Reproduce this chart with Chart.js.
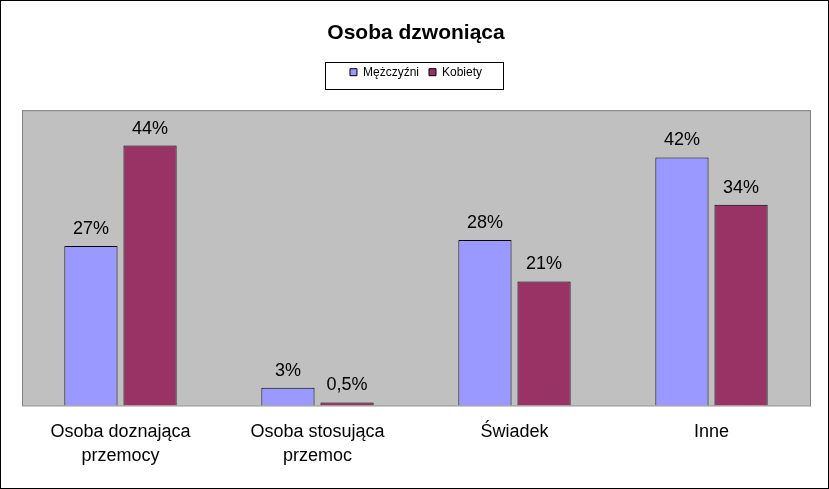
<!DOCTYPE html>
<html><head><meta charset="utf-8">
<script src="https://cdn.jsdelivr.net/npm/chart.js@4"></script>
<style>html,body{margin:0;padding:0;background:#fff}#wrap{width:827px;height:487px;border:1px solid #000}</style>
</head><body><div id="wrap"><canvas id="c" width="827" height="487"></canvas></div>
<script>
const categories = [['Osoba doznająca', 'przemocy'], ['Osoba stosująca', 'przemoc'], 'Świadek', 'Inne'];
const men = [27, 3, 28, 42];
const women = [44, 0.5, 21, 34];
const menLabels = ['27%', '3%', '28%', '42%'];
const womenLabels = ['44%', '0,5%', '21%', '34%'];

const extras = {
  id: 'extras',
  beforeInit(chart) {
    const fit = chart.legend.fit;
    chart.legend.fit = function () { fit.bind(chart.legend)(); this.height += 22; };
  },
  beforeDraw(chart) {
    const a = chart.chartArea, ctx = chart.ctx;
    ctx.save();
    ctx.fillStyle = '#c0c0c0';
    ctx.fillRect(a.left, a.top, a.right - a.left, a.bottom - a.top);
    ctx.strokeStyle = '#808080';
    ctx.lineWidth = 1;
    ctx.strokeRect(a.left + 0.5, a.top + 0.5, a.right - a.left, a.bottom - a.top);
    ctx.strokeStyle = '#000';
    ctx.strokeRect(324.5, 61.5, 178, 27);
    ctx.restore();
  },
  afterDatasetsDraw(chart) {
    const ctx = chart.ctx;
    ctx.save();
    ctx.font = '18px Arial, "Liberation Sans"';
    ctx.fillStyle = '#000';
    ctx.textAlign = 'center';
    ctx.textBaseline = 'bottom';
    [menLabels, womenLabels].forEach((labs, di) => {
      chart.getDatasetMeta(di).data.forEach((bar, i) => {
        ctx.fillText(labs[i], bar.x, bar.y - 8);
      });
    });
    ctx.restore();
  }
};

new Chart(document.getElementById('c'), {
  type: 'bar',
  data: {
    labels: categories,
    datasets: [
      { label: 'Mężczyźni', data: men, backgroundColor: '#9999ff', borderColor: '#000', borderWidth: 1, categoryPercentage: 0.6, barPercentage: 0.9 },
      { label: 'Kobiety', data: women, backgroundColor: '#993366', borderColor: '#000', borderWidth: 1, categoryPercentage: 0.6, barPercentage: 0.9 }
    ]
  },
  options: {
    responsive: false,
    animation: false,
    layout: { padding: { left: 21, right: 18, top: 0, bottom: 14 } },
    plugins: {
      title: { display: true, text: 'Osoba dzwoniąca', color: '#000', font: { family: 'Arial, "Liberation Sans"', size: 21, weight: 'bold' }, padding: { top: 20, bottom: 10 } },
      legend: { labels: { color: '#000', boxWidth: 7, boxHeight: 7, padding: 10, font: { family: 'Arial, "Liberation Sans"', size: 12 } } },
      tooltip: { enabled: false }
    },
    scales: {
      x: { grid: { display: false }, border: { display: false }, ticks: { color: '#000', font: { family: 'Arial, "Liberation Sans"', size: 18, lineHeight: 1.35 }, padding: 6, maxRotation: 0 } },
      y: { display: false, min: 0, max: 50 }
    }
  },
  plugins: [extras]
});
</script></body></html>
